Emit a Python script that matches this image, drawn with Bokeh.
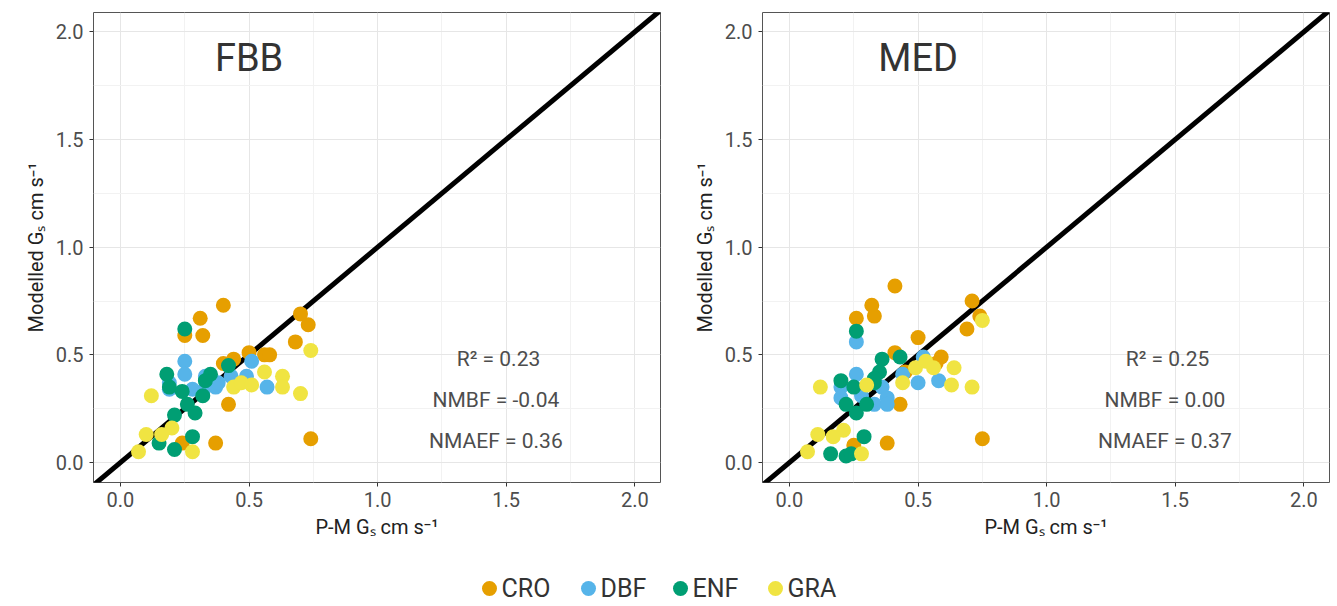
from bokeh.plotting import figure
from bokeh.layouts import column, row
from bokeh.models import FixedTicker, Range1d, CustomJSTickFormatter
from bokeh.core.properties import value
from bokeh.embed import file_html
from bokeh.resources import INLINE

colors = {"CRO": "#E69F00", "DBF": "#56B4E9", "ENF": "#009E73", "GRA": "#F0E442"}
groups = ["CRO", "DBF", "ENF", "GRA"]

fbb_x = {
 "CRO": [.40,.31,.25,.32,.70,.73,.68,.50,.56,.58,.44,.40,.42,.74,.37,.24],
 "DBF": [.25,.25,.19,.28,.32,.33,.37,.38,.43,.49,.51,.57,.19],
 "ENF": [.25,.18,.19,.24,.35,.33,.32,.42,.26,.29,.21,.28,.15,.21],
 "GRA": [.12,.56,.63,.63,.70,.74,.44,.47,.51,.20,.16,.10,.07,.28],
}
fbb_y = {
 "CRO": [.73,.67,.59,.59,.69,.64,.56,.51,.50,.50,.48,.46,.27,.11,.09,.09],
 "DBF": [.47,.41,.34,.34,.33,.40,.35,.37,.40,.40,.47,.35,.37],
 "ENF": [.62,.41,.35,.33,.41,.38,.31,.45,.27,.23,.22,.12,.09,.06],
 "GRA": [.31,.42,.40,.35,.32,.52,.35,.37,.36,.16,.13,.13,.05,.05],
}
med_x = {
 "CRO": [.41,.32,.33,.26,.71,.74,.69,.50,.59,.57,.41,.45,.43,.75,.38,.25],
 "DBF": [.26,.26,.20,.20,.28,.33,.36,.38,.38,.50,.52,.58,.44],
 "ENF": [.26,.20,.25,.36,.35,.33,.33,.43,.22,.26,.29,.16,.22,.24,.30],
 "GRA": [.12,.49,.53,.56,.64,.63,.71,.75,.44,.30,.11,.17,.21,.07,.28],
}
med_y = {
 "CRO": [.82,.73,.68,.67,.75,.68,.62,.58,.49,.46,.51,.42,.27,.11,.09,.08],
 "DBF": [.56,.41,.35,.30,.31,.27,.35,.30,.27,.37,.49,.38,.41],
 "ENF": [.61,.38,.35,.48,.42,.39,.37,.49,.27,.23,.12,.04,.03,.04,.27],
 "GRA": [.35,.44,.47,.44,.44,.36,.35,.66,.37,.36,.13,.12,.15,.05,.04],
}
panels = [("FBB", fbb_x, fbb_y, ["R\u00b2 = 0.23", "NMBF =  -0.04", "NMAEF =  0.36"]),
          ("MED", med_x, med_y, ["R\u00b2 = 0.25", "NMBF =  0.00", "NMAEF =  0.37"])]
ticks = [0.0, 0.5, 1.0, 1.5, 2.0]
minor = [0.25, 0.75, 1.25, 1.75]
txtc = "#4d4d4d"
F = "Roboto"

figs = []
for i, (name, xs, ys, stats) in enumerate(panels):
    p = figure(width=668 if i == 0 else 665, height=544, output_backend="svg", toolbar_location=None,
               x_range=Range1d(-0.105, 2.10), y_range=Range1d(-0.093, 2.09),
               min_border_left=93 if i == 0 else 94, min_border_right=8 if i == 0 else 4,
               min_border_top=12, min_border_bottom=62)
    p.outline_line_color = "#555555"
    for ax in (p.xaxis[0], p.yaxis[0]):
        ax.ticker = FixedTicker(ticks=ticks, minor_ticks=minor)
        ax.formatter = CustomJSTickFormatter(code="return tick.toFixed(1);")
        ax.major_label_text_font_size = "20px"
        ax.major_label_text_color = txtc
        ax.major_label_text_font = F
        ax.axis_label_text_font_size = "20px"
        ax.axis_label_text_font_style = "normal"
        ax.axis_label_text_font = F
        ax.axis_label_text_color = "#222222"
        ax.axis_line_color = None
        ax.major_tick_line_color = "#333333"
        ax.minor_tick_line_color = None
        ax.major_tick_out = 4
        ax.major_tick_in = 0
    p.xaxis.axis_label = "P-M G\u209b cm s\u207b\u00b9"
    p.yaxis.axis_label = "Modelled G\u209b cm s\u207b\u00b9"
    p.yaxis.major_label_standoff = 6
    for g in (p.xgrid[0], p.ygrid[0]):
        g.grid_line_color = "#e6e6e6"
        g.minor_grid_line_color = "#f2f2f2"
    p.line([-0.2, 2.2], [-0.2, 2.2], line_color="black", line_width=5)
    for grp in groups:
        p.scatter(xs[grp], ys[grp], size=15, fill_color=colors[grp], line_color=None)
    p.text([0.5], [1.88], text=[name], text_font_size="38px", text_color="#333333",
           text_align="center", text_baseline="middle", text_font=value(F))
    p.text([1.47] * 3, [0.48, 0.29, 0.10], text=stats, text_font_size="21px", text_color=txtc,
           text_align="center", text_baseline="middle", text_font=value(F))
    figs.append(p)

lg = figure(width=1333, height=60, output_backend="svg", toolbar_location=None,
            x_range=Range1d(0, 1333), y_range=Range1d(0, 60), min_border=0)
lg.axis.visible = False
lg.grid.visible = False
lg.outline_line_color = None
lx = [489, 588, 680, 775]
for grp, x0 in zip(groups, lx):
    lg.scatter([x0], [16], size=15, fill_color=colors[grp], line_color=None)
    lg.text([x0 + 12], [16], text=[grp], text_font_size="25px", text_color="#333333",
            text_baseline="middle", text_font=value(F))

layout = column(row(*figs, spacing=0), lg, spacing=0)
open("out.html", "w").write(file_html(layout, INLINE))
